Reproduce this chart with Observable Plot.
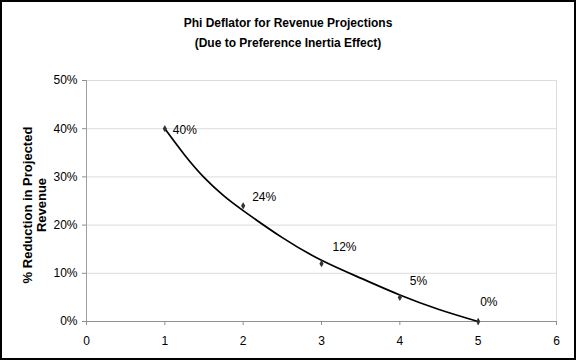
<!DOCTYPE html>
<html>
<head>
<meta charset="utf-8">
<script src="https://cdn.jsdelivr.net/npm/d3@7"></script>
<script src="https://cdn.jsdelivr.net/npm/@observablehq/plot@0.6"></script>
<style>
  html, body { margin: 0; padding: 0; background: #fff; }
  #wrap { position: relative; width: 576px; height: 360px; overflow: hidden; background: #fff; font-family: "Liberation Sans", Arial, sans-serif; }
  #title { position: absolute; left: 0; top: 13px; width: 576px; text-align: center; font-size: 12px; font-weight: bold; line-height: 20px; color: #000; }
  #border { position: absolute; left: 0; top: 0; width: 576px; height: 360px; box-sizing: border-box; border: 2px solid #000; pointer-events: none; }
  #chart svg { display: block; }
</style>
</head>
<body>
<div id="wrap">
  <div id="chart"></div>
  <div id="title">Phi Deflator for Revenue Projections<br>(Due to Preference Inertia Effect)</div>
  <div id="border"></div>
</div>
<script>
// Data points
const steps = [1, 2, 3, 4, 5];
const reductions = [0.40, 0.24, 0.12, 0.05, 0.00];
const pointLabels = ["40%", "24%", "12%", "5%", "0%"];

// Trend curve
const curveX = [1, 1.25, 1.5, 1.75, 2, 2.5, 3, 3.5, 4, 4.5, 5];
const curveY = [0.400, 0.346, 0.299, 0.261, 0.230, 0.174, 0.127, 0.090, 0.055, 0.025, 0.000];

// Axis ticks
const xTicks = [0, 1, 2, 3, 4, 5, 6];
const yTicks = [0, 0.1, 0.2, 0.3, 0.4, 0.5];

const points = steps.map((s, i) => ({x: s, y: reductions[i], label: pointLabels[i]}));
const curve = curveX.map((x, i) => ({x, y: curveY[i]}));

// per-label offsets (style)
const labelOffsets = [[8, 1], [9, -9], [11, -17], [10, -16], [2, -19]];

const font = "Liberation Sans, Arial, sans-serif";

const labelMarks = points.map((p, i) =>
  Plot.text([p], {x: "x", y: "y", text: "label", textAnchor: "start",
    dx: labelOffsets[i][0], dy: labelOffsets[i][1], fontSize: 12, fill: "#000"})
);

const chart = Plot.plot({
  width: 576,
  height: 360,
  marginLeft: 86,
  marginRight: 20,
  marginTop: 80,
  marginBottom: 39,
  style: {fontFamily: font, fontSize: "12px", background: "#fff", color: "#000"},
  x: {domain: [0, 6]},
  y: {domain: [0, 0.5]},
  marks: [
    Plot.gridY(yTicks, {stroke: "#dcdcdc", strokeOpacity: 1}),
    Plot.ruleX([6], {stroke: "#dcdcdc"}),
    Plot.ruleX([0], {stroke: "#a0a0a0"}),
    Plot.ruleY([0], {stroke: "#909090"}),
    Plot.axisX(xTicks, {tickSize: 4, tickPadding: 11, stroke: "#909090", fill: "#000", fontSize: 12, label: null, tickFormat: d => String(d)}),
    Plot.axisY(yTicks, {tickSize: 4, tickPadding: 5, stroke: "#909090", fill: "#000", fontSize: 12, label: null, tickFormat: d3.format(".0%")}),
    Plot.line(curve, {x: "x", y: "y", curve: "natural", stroke: "#000", strokeWidth: 1.7}),
    Plot.dot(points, {x: "x", y: "y", symbol: "diamond", r: 2.2, fill: "#333", stroke: "none"}),
    ...labelMarks,
    Plot.text(["% Reduction in Projected\nRevenue"], {
      frameAnchor: "left", textAnchor: "middle", text: d => d, rotate: -90, dx: -52, dy: 4,
      fontSize: 13, fontWeight: "bold", lineHeight: 1.08, fill: "#000"
    })
  ]
});
document.getElementById("chart").appendChild(chart);
</script>
</body>
</html>
